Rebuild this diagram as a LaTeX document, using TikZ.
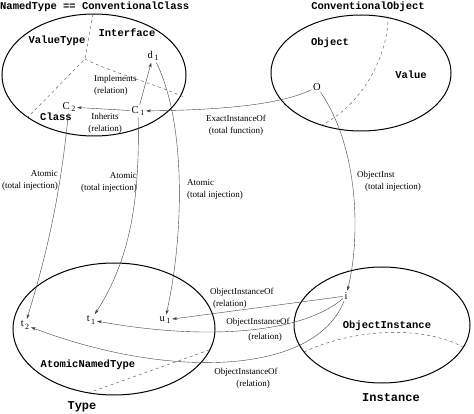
\documentclass[tikz,border=0pt]{standalone}
\usepackage{fontspec}
\setmainfont{Liberation Serif}
\setmonofont{Liberation Mono}
\usetikzlibrary{arrows.meta}
\newcommand{\sbs}[2]{#1\kern1.5pt\raisebox{-2.5pt}{\footnotesize #2}}
\tikzstyle{point}=[inner sep=1.5pt, font=\fontsize{10.5}{12}\selectfont]
\tikzstyle{setname}=[inner sep=0pt, font=\ttfamily\bfseries\fontsize{10.5}{12}\selectfont]
\tikzstyle{bigname}=[inner sep=0pt, font=\ttfamily\bfseries\fontsize{12}{14}\selectfont]
\tikzstyle{rel}=[inner sep=0pt, font=\fontsize{9}{12}\selectfont]
\tikzstyle{split}=[dashed, black!70, thin]

\begin{document}
\begin{tikzpicture}[x=1pt, y=-1pt]
      \useasboundingbox (0,0) rectangle (474,414);
      % the four sets
      \draw[line width=1pt] (94,75) ellipse [x radius=92pt, y radius=61pt];
      \draw[line width=1pt] (361,73) ellipse [x radius=90pt, y radius=58pt];
      \draw[line width=1pt] (114,329) ellipse [x radius=101pt, y radius=66pt];
      \draw[line width=1pt] (382,325) ellipse [x radius=88pt, y radius=58pt];
      \draw[split] (93,14) -- (85,59) -- (28,117);
      \draw[split] (85,59) .. controls (110,72) and (150,82) .. (184,97);
      \draw[split] (388,16) .. controls (389,45) and (370,100) .. (322,125);
      \draw[split] (88,393) -- (209,350);
      \draw[split] (304,352) .. controls (350,330) and (420,324) .. (463,347);
      % set names
      \node[setname, anchor=west](ttl1) at (0,7) {NamedType == ConventionalClass};
      \node[setname](ttl2) at (368,7) {ConventionalObject};
      \node[bigname](ttl3) at (82,407) {Type};
      \node[bigname](ttl4) at (391,398) {Instance};
      \node[setname](valuetype) at (57,41) {ValueType};
      \node[setname](interface) at (127,33) {Interface};
      \node[setname](class) at (56,117) {Class};
      \node[setname](object) at (330,43) {Object};
      \node[setname](value) at (411,75) {Value};
      \node[setname](atomic) at (88,365) {AtomicNamedType};
      \node[setname](objinst) at (387,326) {ObjectInstance};
      % elements
      \node[point](d1) at (153,56) {\sbs{d}{1}};
      \node[point](c1) at (138,111) {\sbs{C}{1}};
      \node[point](c2) at (69,107) {\sbs{C}{2}};
      \node[point](o) at (317,87) {O};
      \node[point](t2) at (25,325) {\sbs{t}{2}};
      \node[point](t1) at (91,320) {\sbs{t}{1}};
      \node[point](u1) at (165,320) {\sbs{u}{1}};
      \node[point](i) at (346,296) {i};
      % relation labels
      \node[rel, align=left, anchor=west](implements) at (94,85) {Implements\\(relation)};
      \node[rel, align=center](inherits) at (105,123) {Inherits\\(relation)};
      \node[rel, align=center](exact) at (236,125) {ExactInstanceOf\\(total function)};
      \node[rel, align=right, anchor=east](atom2) at (58,180) {Atomic\\(total injection)};
      \node[rel, align=right, anchor=east](atom1) at (137,182) {Atomic\\(total injection)};
      \node[rel, align=left, anchor=west](atom3) at (187,189) {Atomic\\(total injection)};
      \node[rel, align=left, anchor=west](oinst) at (357,181) {ObjectInst\\\hspace*{8pt}(total injection)};
      \node[rel, align=left, anchor=west](iof1) at (210,298) {ObjectInstanceOf\\\hspace*{3pt}(relation)};
      \node[rel, align=center](iof2) at (258,330) {ObjectInstanceOf\\[3pt]\hspace*{14pt}(relation)};
      \node[rel, align=center](iof3) at (246,378) {ObjectInstanceOf\\\hspace*{14pt}(relation)};
      \begin{scope}[every path/.style={-{Stealth[length=5pt, width=3pt]}, black!75, thin}]
        \draw (c1) -- (d1);
        \draw (c1) -- (c2);
        \draw (o) .. controls (280,105) and (220,110) .. (c1);
        \draw (o) .. controls (360,150) and (360,240) .. (i);
        \draw (c2) .. controls (60,200) and (45,260) .. (t2);
        \draw (c1) .. controls (140,200) and (130,260) .. (t1);
        \draw (d1) .. controls (185,120) and (185,230) .. (u1);
        \draw (i) -- (u1);
        \draw (i) .. controls (300,335) and (200,340) .. (t1);
        \draw (i) .. controls (315,375) and (170,380) .. (t2);
      \end{scope}
    \end{tikzpicture}
\end{document}
